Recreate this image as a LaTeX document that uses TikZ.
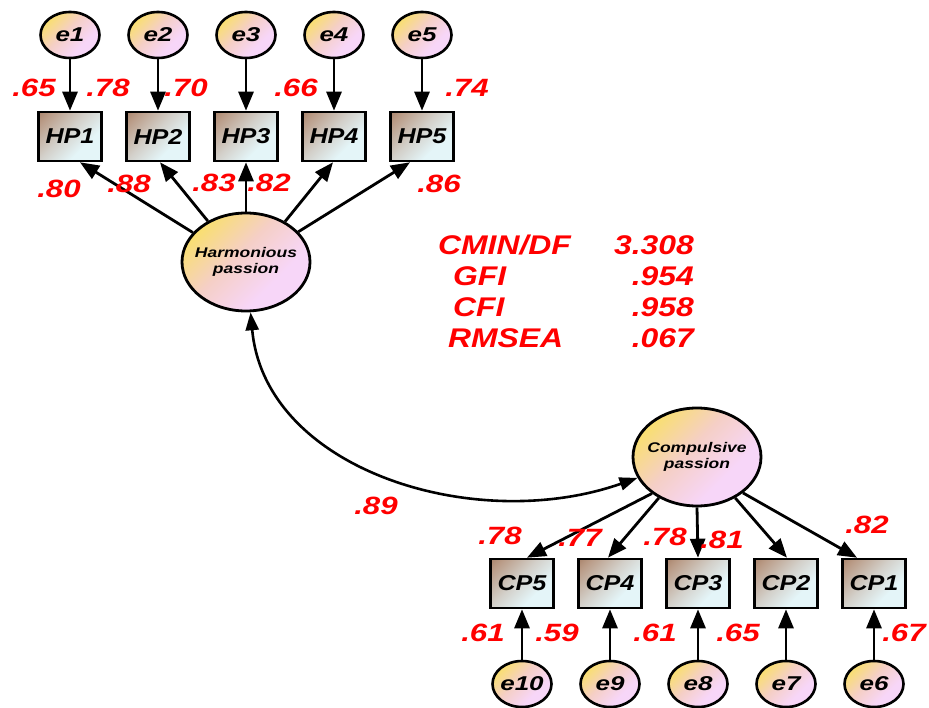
\documentclass[tikz,border=0pt]{standalone}
\usepackage{fontspec}
\setmainfont{Liberation Sans}
\newfontfamily\labfont[FakeStretch=1.25]{Liberation Sans}
\newfontfamily\statfont[FakeStretch=1.18]{Liberation Sans}
\newfontfamily\boxfont[FakeStretch=1.17]{Liberation Sans}
\newfontfamily\latfont[FakeStretch=1.25]{Liberation Sans}
\newfontfamily\errfont[FakeStretch=1.3]{Liberation Sans}
\usetikzlibrary{arrows.meta,shapes.geometric}

\definecolor{ellY}{HTML}{FAE35A}
\definecolor{ellM}{HTML}{F5CFC6}
\definecolor{ellP}{HTML}{F7D6F8}
\definecolor{boxB}{HTML}{8A5A3C}
\definecolor{boxT}{HTML}{B99A85}
\definecolor{boxM}{HTML}{D3D0CA}
\definecolor{boxC}{HTML}{E4F5F8}
\definecolor{valred}{HTML}{FF0000}

% diagonal fills: yellow-to-pink for variables in ellipses, brown-to-cyan for boxes
\pgfdeclareverticalshading{ellshade}{100bp}{color(0bp)=(ellP); color(35bp)=(ellP);
  color(55bp)=(ellM); color(80bp)=(ellY); color(100bp)=(ellY)}
\pgfdeclareverticalshading{boxshade}{100bp}{color(0bp)=(boxC); color(35bp)=(boxC);
  color(55bp)=(boxM); color(78bp)=(boxT); color(100bp)=(boxB)}

\tikzset{
  errvar/.style={ellipse, draw, line width=2.6pt, inner ysep=0pt, inner xsep=-8pt,
    minimum width=59pt, minimum height=46pt,
    shade, shading=ellshade, shading angle=45,
    font=\errfont\bfseries\itshape\fontsize{20}{20}\selectfont},
  latent/.style={ellipse, draw, line width=2.8pt, inner ysep=0pt, inner xsep=-14pt,
    minimum width=128pt, minimum height=98pt, align=center,
    shade, shading=ellshade, shading angle=45,
    font=\latfont\bfseries\itshape\fontsize{14}{16}\selectfont},
  obsvar/.style={rectangle, draw, line width=2.6pt, inner sep=0pt,
    minimum width=63pt, minimum height=49pt,
    shade, shading=boxshade, shading angle=45,
    font=\boxfont\bfseries\itshape\fontsize{21.5}{21.5}\selectfont},
  path/.style={line width=2.8pt, -{Triangle[length=19pt,width=15pt]}},
  cov/.style={line width=2.6pt, {Triangle[length=18pt,width=13pt]}-{Triangle[length=18pt,width=13pt]}},
  coef/.style={text=valred, inner sep=0pt,
    font=\labfont\bfseries\itshape\fontsize{25}{25}\selectfont},
  fitval/.style={text=valred, inner sep=0pt,
    font=\statfont\bfseries\itshape\fontsize{27}{27}\selectfont},
}

\begin{document}
\begin{tikzpicture}[x=1pt,y=-1pt]
\useasboundingbox (0,0) rectangle (929,708);

% latent factors
\node[latent] (HPas) at (246,262) {Harmonious\\passion};
\node[latent] (CPas) at (697,457) {Compulsive\\passion};

% harmonious passion indicators and their errors
\foreach \i/\x in {1/70,2/158,3/246,4/334,5/422} {
  \node[errvar] (e\i) at (\x,35) {e\i};
  \node[obsvar] (HP\i) at (\x,136.5) {HP\i};
  \draw[path] (e\i) -- (HP\i);
}

% compulsive passion indicators and their errors
\foreach \i/\x/\e in {5/522/10,4/610/9,3/698/8,2/786/7,1/874/6} {
  \node[obsvar] (CP\i) at (\x,583.5) {CP\i};
  \node[errvar] (e\e) at (\x,684) {e\e};
  \draw[path] (e\e) -- (CP\i);
}

% factor loadings
\foreach \i/\a/\s in {1/151/10,2/133/2,3/90/0,4/46/-1,5/30/-12}
  \draw[path] (HPas.\a) -- ([xshift=\s pt]HP\i.south);
\foreach \i/\a/\s in {5/-141/5,4/-133/-2,3/-90/0,2/-47/1,1/-38/-17}
  \draw[path] (CPas.\a) -- ([xshift=\s pt]CP\i.north);

% factor covariance
\draw[cov] (HPas) .. controls (265,470) and (475,535) .. (CPas);

% coefficients, upper block
\node[coef] (r1) at (34,88) {.65};
\node[coef] (r2) at (108,88) {.78};
\node[coef] (r3) at (186,88) {.70};
\node[coef] (r4) at (296,88) {.66};
\node[coef] (r5) at (467,88) {.74};
\node[coef] (l1) at (59,189) {.80};
\node[coef] (l2) at (129,184) {.88};
\node[coef] (l3) at (214,183) {.83};
\node[coef] (l4) at (269,183) {.82};
\node[coef] (l5) at (439,184) {.86};

% coefficients, lower block
\node[coef] (l6) at (500,536) {.78};
\node[coef] (l7) at (580,538) {.77};
\node[coef] (l8) at (665,537) {.78};
\node[coef] (l9) at (722,540) {.81};
\node[coef] (l10) at (867,525) {.82};
\node[coef] (r6) at (483,633) {.61};
\node[coef] (r7) at (557,633) {.59};
\node[coef] (r8) at (655,633) {.61};
\node[coef] (r9) at (738,633) {.65};
\node[coef] (r10) at (904,633) {.67};
\node[coef] (cv) at (376,506) {.89};

% fit indices
\node[fitval, anchor=west] (f1) at (438,245) {CMIN/DF};
\node[fitval, anchor=west] (f2) at (453,276) {GFI};
\node[fitval, anchor=west] (f3) at (453,307) {CFI};
\node[fitval, anchor=west] (f4) at (448,338) {RMSEA};
\node[fitval, anchor=east] (v1) at (694,245) {3.308};
\node[fitval, anchor=east] (v2) at (694,276) {.954};
\node[fitval, anchor=east] (v3) at (694,307) {.958};
\node[fitval, anchor=east] (v4) at (694,338) {.067};
\end{tikzpicture}
\end{document}
